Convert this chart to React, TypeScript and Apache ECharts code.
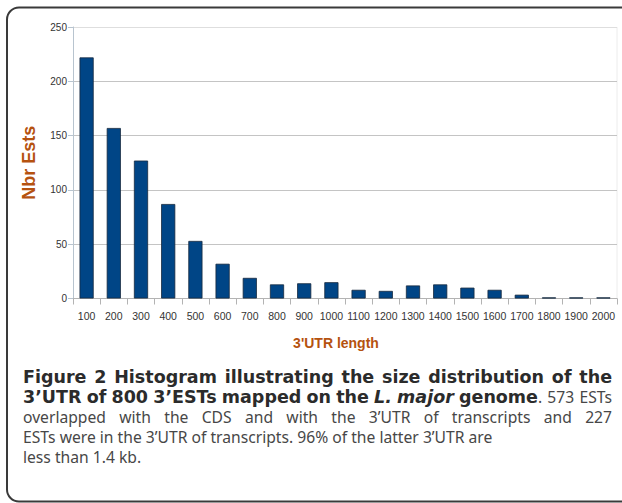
import React, { useEffect, useRef } from 'react';
import * as echarts from 'echarts';

// ---- data ----
const categories = ['100', '200', '300', '400', '500', '600', '700', '800', '900', '1000', '1100', '1200', '1300', '1400', '1500', '1600', '1700', '1800', '1900', '2000'];
const counts = [222, 157, 127, 87, 53, 32, 19, 13, 14, 15, 8, 7, 12, 13, 10, 8, 3.5, 1, 1, 1];
const yMin = 0;
const yMax = 250;
const yStep = 50;
const xTitle = "3'UTR length";
const yTitle = 'Nbr Ests';

type Seg = { t: string; b?: boolean; i?: boolean };
const captionLines: Seg[][] = [
  [{ t: 'Figure 2 Histogram illustrating the size distribution of the', b: true }],
  [{ t: '3\u2019UTR of 800 3\u2019ESTs mapped on the ', b: true }, { t: 'L. major', b: true, i: true }, { t: ' genome', b: true }, { t: '. 573 ESTs' }],
  [{ t: 'overlapped with the CDS and with the 3\u2019UTR of transcripts and 227' }],
  [{ t: 'ESTs were in the 3\u2019UTR of transcripts. 96% of the latter 3\u2019UTR are' }],
  [{ t: 'less than 1.4 kb.' }],
];
const captionJustify = [true, true, true, false, false];

// ---- layout constants ----
const W = 622;
const H = 503;
const REG_FONT = '"Noto Sans", "Open Sans", sans-serif';
const BOLD_FONT = '"DejaVu Sans", "Noto Sans", sans-serif';
const CAP_LEFT = 23;
const CAP_RIGHT = 612;
const CAP_MID0 = 376.5;
const CAP_LH = 20.2;
const BOLD_LINE_WIDTH = 586; // natural width of first (all-bold) line
const REG_LINE_WIDTH = 470; // natural width of the ragged 4th line
const BROWN = '#b5520f';
const SANS = '"Liberation Sans", Arial, sans-serif';

function buildCaption(): any[] {
  const canvas = document.createElement('canvas');
  const ctx = canvas.getContext('2d')!;
  const famOf = (s: Seg) => (s.b ? BOLD_FONT : REG_FONT);
  const fontAt = (s: Seg, size: number) =>
    `${s.i ? 'italic ' : 'normal '}${s.b ? '700 ' : '400 '}${size}px ${famOf(s)}`;
  ctx.font = fontAt({ t: '', b: true }, 16);
  const wb = ctx.measureText(captionLines[0].map((s) => s.t).join('')).width;
  ctx.font = fontAt({ t: '' }, 16);
  const wr = ctx.measureText(captionLines[3].map((s) => s.t).join('')).width;
  const boldSize = Math.max(14, Math.min(17.5, (16 * BOLD_LINE_WIDTH) / wb));
  const regSize = Math.max(13, Math.min(18, (16 * REG_LINE_WIDTH) / wr));
  const sizeOf = (s: Seg) => (s.b ? boldSize : regSize);
  const fontOf = (s: Seg) => fontAt(s, sizeOf(s));

  const els: any[] = [];
  captionLines.forEach((line, li) => {
    const words: Seg[][] = [];
    let cur: Seg[] = [];
    line.forEach((seg) => {
      const parts = seg.t.split(' ');
      parts.forEach((p, k) => {
        if (k > 0) {
          if (cur.length) words.push(cur);
          cur = [];
        }
        if (p) cur.push({ ...seg, t: p });
      });
    });
    if (cur.length) words.push(cur);
    const widths = words.map((w) =>
      w.reduce((a, s) => {
        ctx.font = fontOf(s);
        return a + ctx.measureText(s.t).width;
      }, 0)
    );
    ctx.font = fontOf(line[0]);
    const space = ctx.measureText(' ').width;
    const total = widths.reduce((a, b) => a + b, 0);
    const gap =
      captionJustify[li] && words.length > 1 ? (CAP_RIGHT - CAP_LEFT - total) / (words.length - 1) : space;
    let x = CAP_LEFT;
    const y = CAP_MID0 + li * CAP_LH;
    words.forEach((w, wi) => {
      let px = x;
      w.forEach((s) => {
        ctx.font = fontOf(s);
        els.push({
          type: 'text',
          x: px,
          y,
          silent: true,
          style: {
            text: s.t,
            fontFamily: famOf(s),
            fontSize: sizeOf(s),
            fontWeight: s.b ? 'bold' : 'normal',
            fontStyle: s.i ? 'italic' : 'normal',
            fill: s.b ? '#2b2b2b' : '#474747',
            verticalAlign: 'middle',
            align: 'left',
          },
        });
        px += ctx.measureText(s.t).width;
      });
      x += widths[wi] + gap;
    });
  });
  return els;
}

export default function App() {
  const ref = useRef<HTMLDivElement>(null);
  useEffect(() => {
    if (!ref.current) return;
    const chart = echarts.init(ref.current, undefined, { renderer: 'svg' });
    const option: any = {
      animation: false,
      backgroundColor: '#ffffff',
      grid: { left: 73, right: 5, top: 27, bottom: H - 298.5, containLabel: false, outerBoundsMode: 'none' },
      xAxis: {
        type: 'category',
        data: categories,
        boundaryGap: true,
        name: xTitle,
        nameLocation: 'middle',
        nameGap: 37,
        nameTextStyle: { color: BROWN, fontSize: 14, fontWeight: 'bold', fontFamily: SANS, padding: [0, 18, 0, 0] },
        axisLine: { show: true, lineStyle: { color: '#b3b3b3', width: 1 } },
        axisTick: { show: true, alignWithLabel: false, length: 6, lineStyle: { color: '#b3b3b3' } },
        axisLabel: {
          interval: 0,
          margin: 12,
          fontSize: 10.5,
          color: '#333333',
          fontFamily: SANS,
        },
        splitLine: { show: false },
      },
      yAxis: {
        type: 'value',
        min: yMin,
        max: yMax,
        interval: yStep,
        name: yTitle,
        nameLocation: 'middle',
        nameGap: 35,
        nameTextStyle: { color: BROWN, fontSize: 18, fontWeight: 'bold', fontFamily: SANS },
        axisLine: { show: true, lineStyle: { color: '#b8c4cf', width: 1 } },
        axisTick: { show: true, length: 5, lineStyle: { color: '#b8c4cf' } },
        axisLabel: { margin: 6, fontSize: 10, color: '#333333', fontFamily: SANS },
        splitLine: {
          show: true,
          lineStyle: { color: ['#c4c4c4', '#c4c4c4', '#c4c4c4', '#c4c4c4', '#c4c4c4', '#dedede'], width: 1 },
        },
      },
      series: [
        {
          type: 'bar',
          data: counts,
          barWidth: '52%',
          itemStyle: { color: '#004586', borderColor: '#16283d', borderWidth: 0.8 },
        },
      ],
      graphic: [
        {
          type: 'rect',
          silent: true,
          shape: { x: 7, y: 7.5, width: 700, height: 494, r: 12 },
          style: { fill: 'none', stroke: '#3a3a3a', lineWidth: 2 },
        },
        {
          type: 'line',
          silent: true,
          shape: { x1: 617, y1: 27, x2: 617, y2: 298 },
          style: { stroke: '#ececec', lineWidth: 1 },
        },
        ...buildCaption(),
      ],
    };
    chart.setOption(option);
    return () => chart.dispose();
  }, []);
  return (
    <div
      ref={ref}
      style={{ position: 'fixed', left: 0, top: 0, width: W, height: H, background: '#fff' }}
    />
  );
}
